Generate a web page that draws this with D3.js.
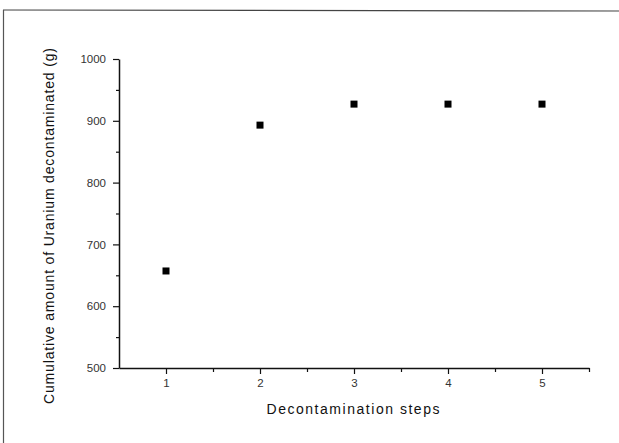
<!DOCTYPE html>
<html><head><meta charset="utf-8">
<script src="https://cdn.jsdelivr.net/npm/d3@7"></script>
<style>body{margin:0;background:#fff}svg{display:block}</style>
</head><body>
<script>
const steps = [1, 2, 3, 4, 5];
const uranium = [657, 893, 927, 927, 927];
const xTicks = [1, 2, 3, 4, 5];
const yTicks = [500, 600, 700, 800, 900, 1000];
const xTitle = "Decontamination steps";
const yTitle = "Cumulative amount of Uranium decontaminated (g)";

const W = 619, H = 443;
const svg = d3.select("body").append("svg").attr("width", W).attr("height", H);
const font = "Arial, 'Liberation Sans', sans-serif";

// outer frame (top and left edges visible)
svg.append("line").attr("x1", 3).attr("x2", W).attr("y1", 10).attr("y2", 11)
  .attr("stroke", "#444").attr("stroke-width", 1.2);
svg.append("line").attr("x1", 3.5).attr("x2", 3.5).attr("y1", 10).attr("y2", H)
  .attr("stroke", "#555").attr("stroke-width", 1.2);

const x = d3.scaleLinear().domain([0.5, 5.5]).range([119, 589]);
const y = d3.scaleLinear().domain([500, 1000]).range([368, 59]);

// X axis
const xAxis = svg.append("g").attr("transform", `translate(0,${y(500)})`)
  .call(d3.axisBottom(x).tickValues(xTicks).tickFormat(d3.format("d")).tickSize(6).tickSizeOuter(0).tickPadding(5));
xAxis.select(".domain").attr("stroke", "#111").attr("stroke-width", 1.5);
xAxis.selectAll(".tick line").attr("stroke", "#111").attr("stroke-width", 1.2);
xAxis.selectAll(".tick text").attr("font-family", font).attr("font-size", 11.5).attr("fill", "#333");
const xMinor = svg.append("g").attr("transform", `translate(0,${y(500)})`)
  .call(d3.axisBottom(x).tickValues([1.5, 2.5, 3.5, 4.5, 5.5]).tickFormat("").tickSize(4).tickSizeOuter(0));
xMinor.select(".domain").remove();
xMinor.selectAll(".tick line").attr("stroke", "#111").attr("stroke-width", 1.2);

// Y axis
const yAxis = svg.append("g").attr("transform", `translate(${x(0.5)},0)`)
  .call(d3.axisLeft(y).tickValues(yTicks).tickFormat(d3.format("d")).tickSize(6).tickSizeOuter(0).tickPadding(7));
yAxis.select(".domain").attr("stroke", "#111").attr("stroke-width", 1.5);
yAxis.selectAll(".tick line").attr("stroke", "#111").attr("stroke-width", 1.2);
yAxis.selectAll(".tick text").attr("font-family", font).attr("font-size", 11.5).attr("fill", "#333");
const yMinor = svg.append("g").attr("transform", `translate(${x(0.5)},0)`)
  .call(d3.axisLeft(y).tickValues([550, 650, 750, 850, 950]).tickFormat("").tickSize(3).tickSizeOuter(0));
yMinor.select(".domain").remove();
yMinor.selectAll(".tick line").attr("stroke", "#111").attr("stroke-width", 1.2);

// markers
const s = 7;
svg.append("g").selectAll("rect").data(steps).join("rect")
  .attr("x", (d) => x(d) - s / 2)
  .attr("y", (d, i) => y(uranium[i]) - s / 2)
  .attr("width", s).attr("height", s).attr("fill", "#000");

// titles
svg.append("text").attr("x", 353).attr("y", 414).attr("text-anchor", "middle")
  .attr("font-family", font).attr("font-size", 14).attr("fill", "#111")
  .attr("textLength", 173).attr("lengthAdjust", "spacing").text(xTitle);
svg.append("text").attr("transform", "translate(54,226) rotate(-90)").attr("text-anchor", "middle")
  .attr("font-family", font).attr("font-size", 14).attr("fill", "#111")
  .attr("textLength", 356).attr("lengthAdjust", "spacing").text(yTitle);
</script>
</body></html>
